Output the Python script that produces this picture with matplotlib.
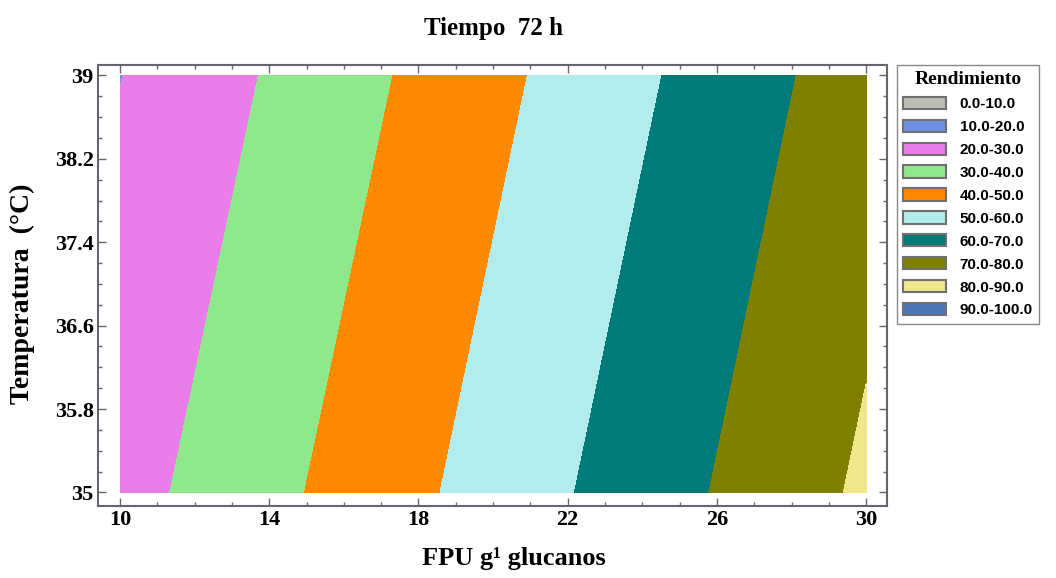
import numpy as np
import matplotlib.pyplot as plt
from matplotlib.patches import Patch
from matplotlib.ticker import MultipleLocator

# Rendimiento en los nodos de la malla (FPU x Temperatura)
fpu = [10, 14, 18, 22, 26, 30]
temperatura = [35, 39]
rend_35 = [26.3, 37.4, 48.4, 59.5, 70.6, 81.7]
rend_39 = [19.8, 30.8, 41.9, 53.0, 64.1, 75.2]

niveles = [0, 10, 20, 30, 40, 50, 60, 70, 80, 90, 100]
etiquetas = ['0.0-10.0', '10.0-20.0', '20.0-30.0', '30.0-40.0', '40.0-50.0',
             '50.0-60.0', '60.0-70.0', '70.0-80.0', '80.0-90.0', '90.0-100.0']
colores = ['#bdbdb5', '#6f8fe3', '#ea7dea', '#8fe88c', '#ff8a00',
           '#b2ecec', '#007b78', '#7f7f00', '#f0e68c', '#4a76b4']

serif = 'Liberation Serif'
sans = 'Liberation Sans'

X, Y = np.meshgrid(fpu, temperatura)
Z = np.array([rend_35, rend_39])

fig = plt.figure(figsize=(10.56, 5.78), dpi=100)
ax = fig.add_axes([0.0928, 0.1246, 0.7472, 0.7629])
ax.contourf(X, Y, Z, levels=niveles, colors=colores)

ax.set_xlim(9.41, 30.56)
ax.set_ylim(34.87, 39.1)
ax.set_xticks([10, 14, 18, 22, 26, 30])
ax.set_yticks([35, 35.8, 36.6, 37.4, 38.2, 39])
ax.set_yticklabels(['35', '35.8', '36.6', '37.4', '38.2', '39'])
ax.xaxis.set_minor_locator(MultipleLocator(1))
ax.yaxis.set_minor_locator(MultipleLocator(0.2))
ax.tick_params(which='both', direction='in', top=True, right=True,
               colors='#666670', labelcolor='black', pad=3)
ax.tick_params(which='major', length=6, width=1)
ax.tick_params(which='minor', length=3, width=1)
for lbl in ax.get_xticklabels() + ax.get_yticklabels():
    lbl.set_fontfamily(serif)
    lbl.set_fontweight('bold')
    lbl.set_fontsize(16)
for s in ax.spines.values():
    s.set_color('#666670')
    s.set_linewidth(1.5)

fig.text(494 / 1056, 1 - 28 / 578, 'Tiempo  72 h', ha='center', va='center',
         fontfamily=serif, fontweight='bold', fontsize=18)
fig.text(514 / 1056, 1 - 558 / 578, 'FPU g\u00b9 glucanos', ha='center',
         va='center', fontfamily=serif, fontweight='bold', fontsize=19)
fig.text(22 / 1056, 1 - 294 / 578, 'Temperatura  (°C)', ha='center',
         va='center', rotation=90, fontfamily=serif, fontweight='bold',
         fontsize=20)

handles = [Patch(facecolor=c, edgecolor='#707070', linewidth=1.5)
           for c in colores]
leg = fig.legend(handles, etiquetas, loc='upper left',
                 bbox_to_anchor=(897 / 1056, 1 - 65 / 578),
                 title='Rendimiento', fancybox=False, framealpha=1,
                 edgecolor='#888888', borderpad=0.4, labelspacing=0.56,
                 handlelength=2.8, handleheight=0.85, handletextpad=0.9,
                 borderaxespad=0, prop={'family': sans, 'weight': 'bold',
                                        'size': 11})
leg.get_title().set_fontfamily(serif)
leg.get_title().set_fontweight('bold')
leg.get_title().set_fontsize(14)

fig.savefig('out.png', dpi=100)
